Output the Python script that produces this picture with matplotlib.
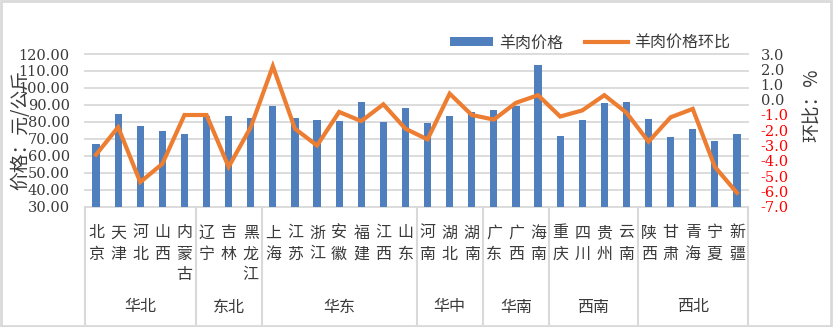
import numpy as np
import matplotlib
matplotlib.use("Agg")
import matplotlib.pyplot as plt
from matplotlib.patches import Rectangle
from matplotlib.lines import Line2D
from matplotlib.transforms import blended_transform_factory

plt.rcParams['font.family'] = ['Noto Sans CJK SC', 'DejaVu Sans']
plt.rcParams['axes.unicode_minus'] = True

provinces = ['北京', '天津', '河北', '山西', '内蒙古',
             '辽宁', '吉林', '黑龙江',
             '上海', '江苏', '浙江', '安徽', '福建', '江西', '山东',
             '河南', '湖北', '湖南',
             '广东', '广西', '海南',
             '重庆', '四川', '贵州', '云南',
             '陕西', '甘肃', '青海', '宁夏', '新疆']
regions = ['华北', '东北', '华东', '华中', '华南', '西南', '西北']
region_sizes = [5, 3, 7, 3, 3, 4, 5]

price = [66.7, 84.6, 77.3, 74.4, 72.6,
         83.3, 83.6, 82.5,
         89.2, 82.5, 80.9, 80.3, 91.5, 79.7, 88.0,
         79.1, 83.3, 85.6,
         86.8, 89.2, 113.4,
         71.4, 80.9, 91.3, 91.9,
         81.5, 70.8, 75.6, 68.5, 72.6]
mom = [-3.6, -1.8, -5.4, -4.2, -1.0,
       -1.0, -4.4, -1.8,
       2.2, -1.9, -3.0, -0.8, -1.4, -0.3, -1.9,
       -2.6, 0.4, -1.0,
       -1.3, -0.2, 0.3,
       -1.1, -0.7, 0.3, -0.85,
       -2.75, -1.15, -0.6, -4.4, -6.1]

left_ticks = np.arange(30, 121, 10)
right_ticks = np.arange(-7, 3.1, 1)

W, H = 833, 327
fig = plt.figure(figsize=(W / 100, H / 100), dpi=100)
x0, x1, ytop, ybot = 85, 748, 54, 206.5
ax = fig.add_axes([x0 / W, 1 - ybot / H, (x1 - x0) / W, (ybot - ytop) / H])
ax2 = ax.twinx()

x = np.arange(len(provinces))
ax.bar(x, price, width=0.33, color='#4F7FBC', label='羊肉价格', zorder=3)
ax2.plot(x, mom, color='#ED7D31', lw=3, label='羊肉价格环比', solid_joinstyle='miter')

ax.set_xlim(-0.5, len(provinces) - 0.5)
ax.set_ylim(30, 120)
ax2.set_ylim(-7, 3)
ax.set_xticks([])

txt = '#3a3a3a'
ax.set_yticks(left_ticks)
ax.set_yticklabels(['%.2f' % v for v in left_ticks], family='DejaVu Serif', fontsize=10.5, color=txt)
ax.tick_params(axis='y', length=0, pad=11)
ax.yaxis.grid(True, color='#d9d9d9', lw=1.3)
for gl in ax.get_ygridlines():
    gl.set_clip_on(False)
ax.set_axisbelow(True)

ax2.set_yticks(right_ticks)
ax2.set_yticklabels(['%.1f' % v for v in right_ticks], family='DejaVu Serif', fontsize=10.5)
ax2.tick_params(axis='y', length=0, pad=9)
for lab, v in zip(ax2.get_yticklabels(), right_ticks):
    lab.set_color('#ff0000' if v < 0 else txt)

for a in (ax, ax2):
    for s in a.spines.values():
        s.set_visible(False)

# category labels, characters stacked vertically
tr = blended_transform_factory(ax.transData, fig.transFigure)
row_y = [233, 254, 275]
for i, name in enumerate(provinces):
    for j, ch in enumerate(name):
        ax.text(i, 1 - row_y[j] / H, ch, transform=tr, ha='center', va='center',
                fontsize=11.5, color=txt)

bounds = np.concatenate([[0], np.cumsum(region_sizes)]) - 0.5
for b in bounds:
    fig.add_artist(Line2D([b, b], [1 - ybot / H, 1 - 324 / H], transform=tr,
                          color='#d9d9d9', lw=1.5))
for k, name in enumerate(regions):
    c = (bounds[k] + bounds[k + 1]) / 2
    ax.text(c, 1 - 307 / H, name, transform=tr, ha='center', va='center',
            fontsize=11.5, color=txt)

fig.text(21 / W, 1 - 130 / H, '价格：元/公斤', rotation=90, ha='center', va='center',
         fontsize=13.5, color=txt)
fig.text(812 / W, 1 - 105 / H, '环比：%', rotation=90, ha='center', va='center',
         fontsize=13.5, color=txt)

h1, l1 = ax.get_legend_handles_labels()
h2, l2 = ax2.get_legend_handles_labels()
fig.legend(h1 + h2, l1 + l2, loc='center', bbox_to_anchor=(590 / W, 1 - 43 / H),
           ncol=2, frameon=False, fontsize=11.5, handlelength=2.7, handleheight=0.5,
           handletextpad=0.35, columnspacing=1.4, labelcolor=txt)

fig.add_artist(Rectangle((0.001, 0.002), 0.997, 0.995, transform=fig.transFigure,
                         fill=False, edgecolor='#d9d9d9', lw=2))

fig.savefig('out.png', dpi=100)
